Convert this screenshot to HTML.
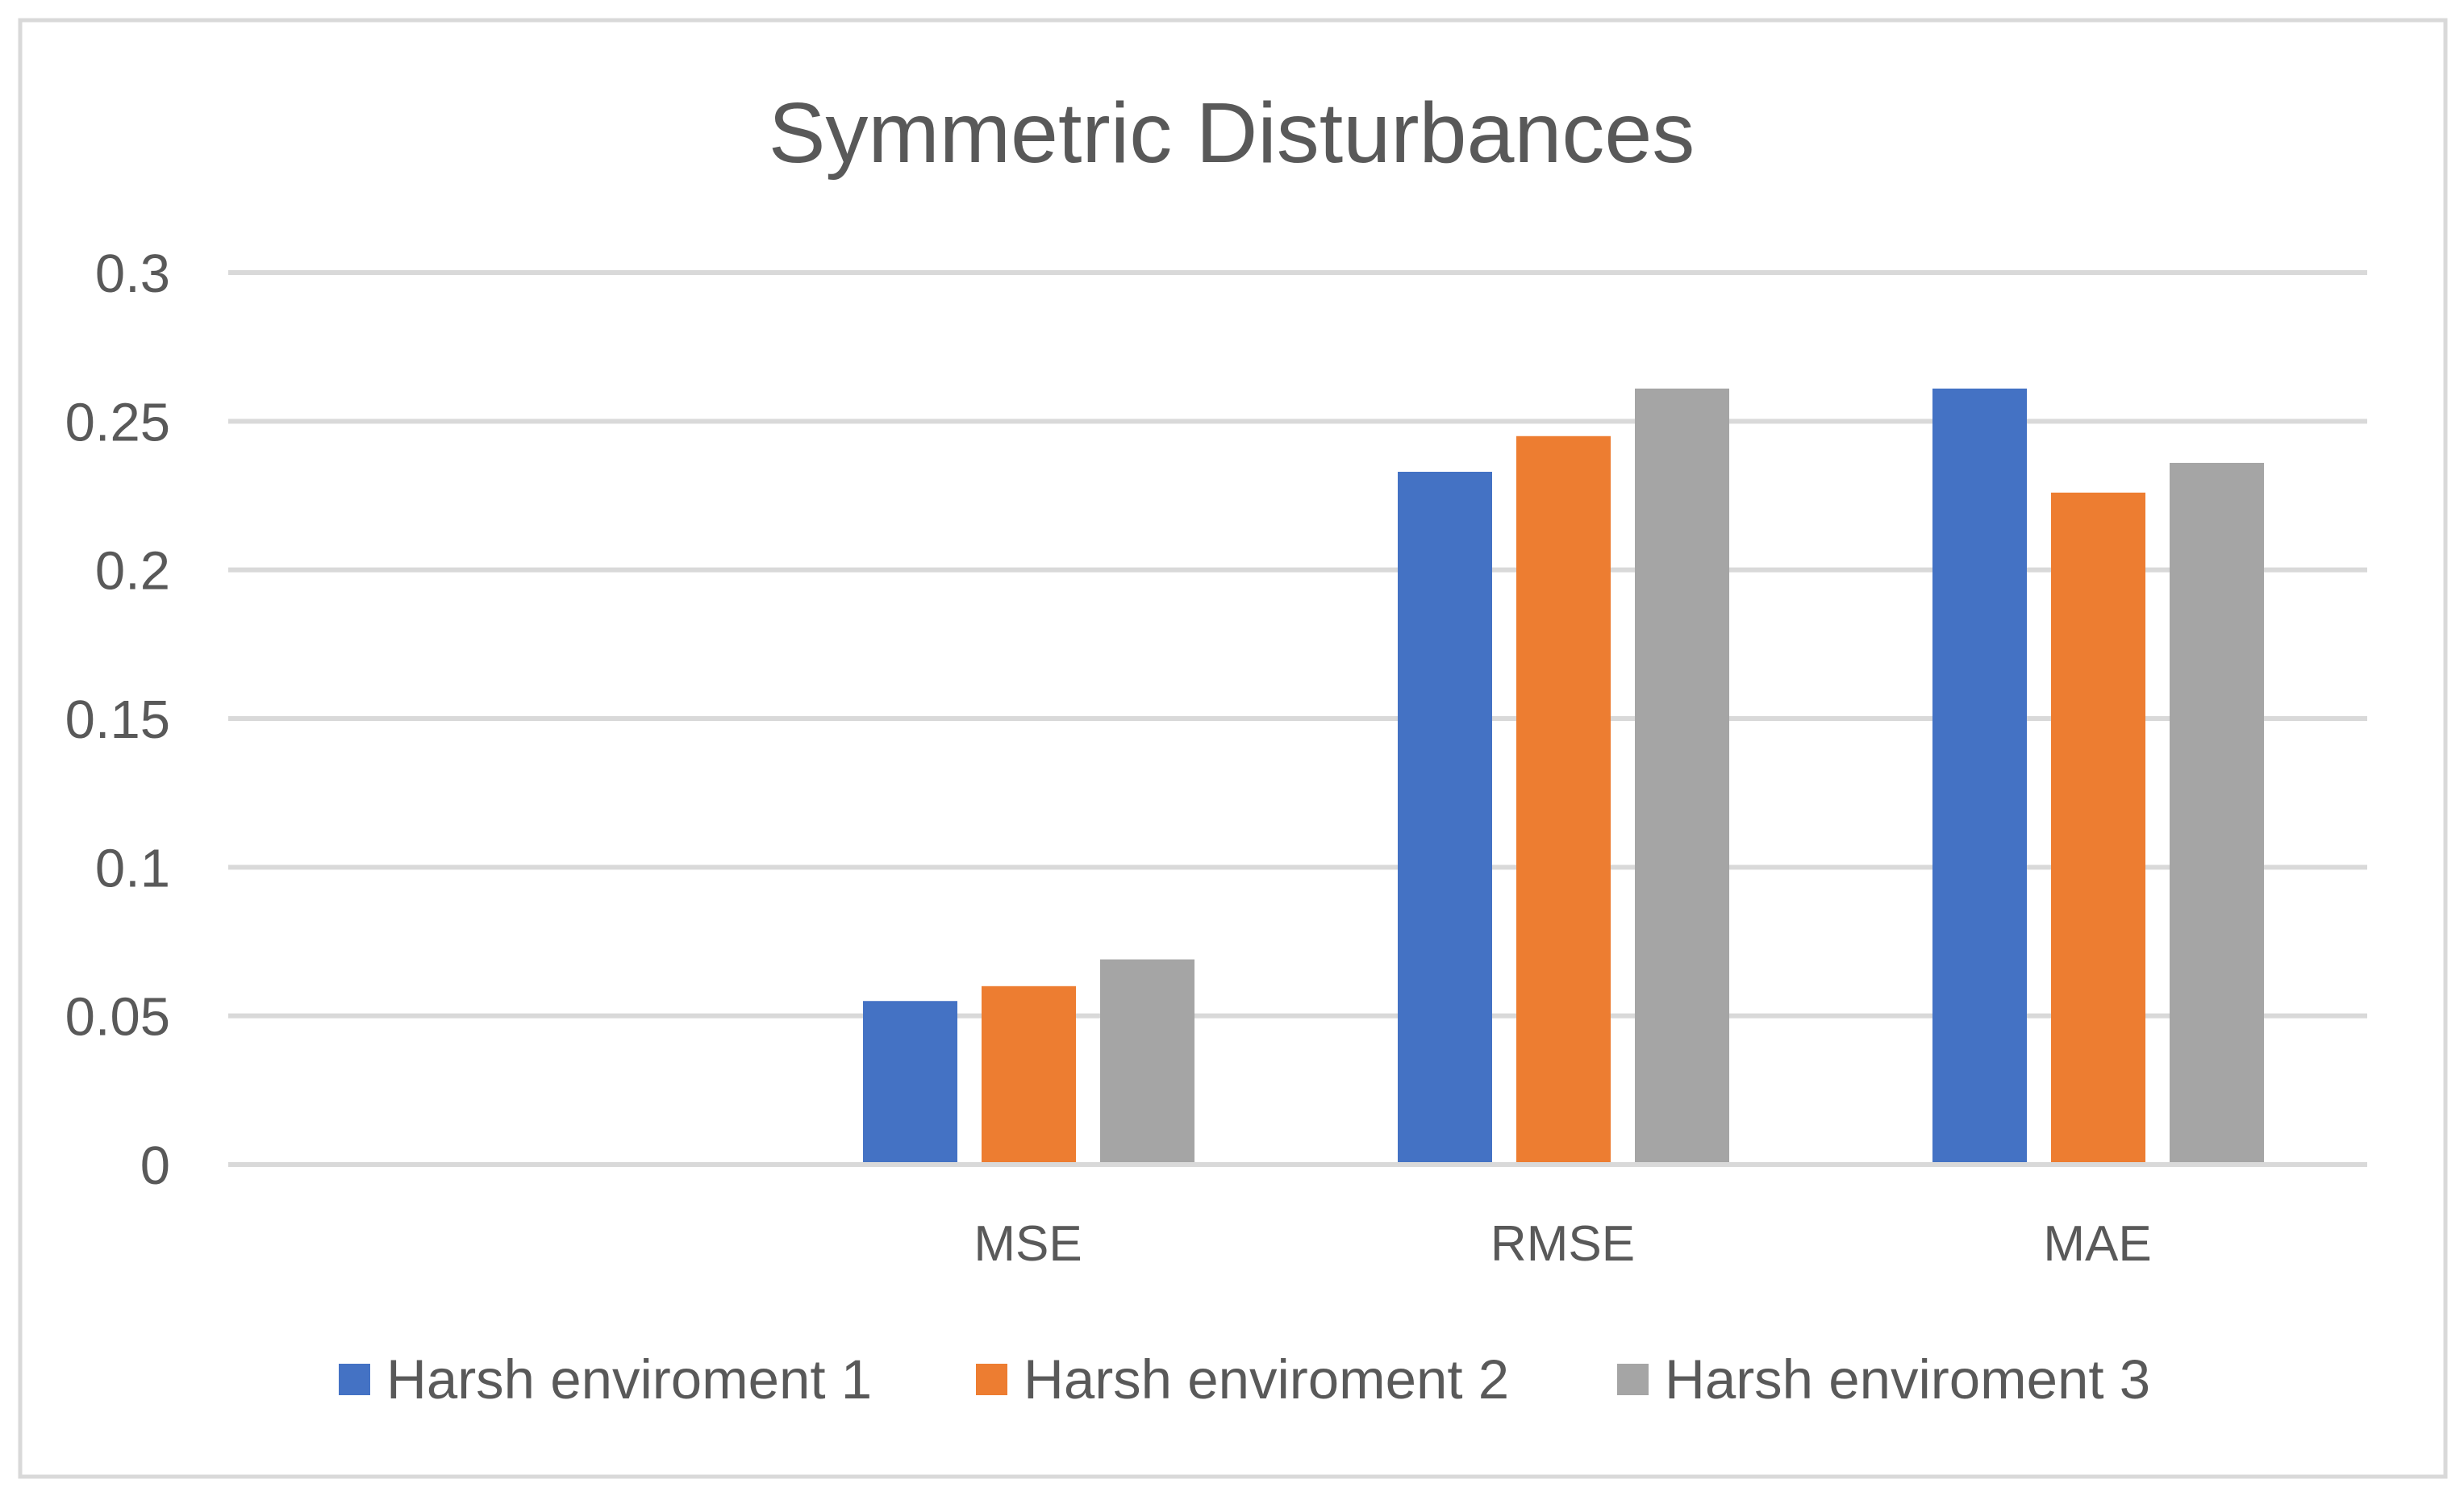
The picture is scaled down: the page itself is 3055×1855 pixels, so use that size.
<!DOCTYPE html>
<html><head><meta charset="utf-8"><style>
html,body{margin:0;padding:0;background:#fff;}
svg{display:block;font-family:"Liberation Sans",sans-serif;}
</style></head><body>
<svg id="chart" width="3055" height="1855" viewBox="0 0 3055 1855" xmlns="http://www.w3.org/2000/svg">
<rect x="25" y="25" width="3007" height="1806" fill="#fff" stroke="#d9d9d9" stroke-width="5"/>
<text x="1527" y="201" font-size="106" fill="#595959" text-anchor="middle">Symmetric Disturbances</text>
<g id="grid"></g><g id="bars"></g><g id="labels"></g><g id="legend"></g>
</svg>
<script>
const categories = ["", "MSE", "RMSE", "MAE"];
const seriesNames = ["Harsh enviroment 1", "Harsh enviroment 2", "Harsh enviroment 3"];
const series1 = [null, 0.055, 0.233, 0.261];
const series2 = [null, 0.060, 0.245, 0.226];
const series3 = [null, 0.069, 0.261, 0.236];
const tickValues = [0, 0.05, 0.1, 0.15, 0.2, 0.25, 0.3];
const tickLabels = ["0", "0.05", "0.1", "0.15", "0.2", "0.25", "0.3"];
const colors = ["#4472c4", "#ed7d31", "#a5a5a5"];

const NS = "http://www.w3.org/2000/svg";
const plotL = 283, plotR = 2935, y0 = 1444, yTop = 338, vMax = 0.3;
const yScale = v => y0 - (v / vMax) * (y0 - yTop);
const catW = (plotR - plotL) / categories.length;
const xCenter = i => plotL + catW * (i + 0.5);
const barW = 117, gap = 30;
function mk(tag, attrs, parent) { const e = document.createElementNS(NS, tag); for (const k in attrs) e.setAttribute(k, attrs[k]); parent.appendChild(e); return e; }

const grid = document.getElementById("grid");
tickValues.forEach((v, i) => {
  const l = mk("line", {x1: plotL, x2: plotR, y1: yScale(v), y2: yScale(v), stroke: "#d9d9d9", "stroke-width": 6}, grid);
  
  
  const t = mk("text", {x: 211, y: yScale(v) + 24, "font-size": 67, fill: "#595959", "text-anchor": "end"}, grid);
  t.textContent = tickLabels[i];
  
  
});

const bars = document.getElementById("bars");
const allSeries = [series1, series2, series3];
const groupW = 3 * barW + 2 * gap;
categories.forEach((c, ci) => {
  allSeries.forEach((s, si) => {
    const v = s[ci];
    if (v == null) return;
    const x = xCenter(ci) - groupW / 2 + si * (barW + gap) - 2;
    const r = mk("rect", {x: x, y: yScale(v), width: barW, height: y0 - 3 - yScale(v), fill: colors[si]}, bars);
    
    
  });
  if (c) {
    const t = mk("text", {x: xCenter(ci) - 3, y: 1563, "font-size": 62, fill: "#595959", "text-anchor": "middle"}, document.getElementById("labels"));
    t.textContent = c;
    
    
  }
});

const legend = document.getElementById("legend");
const legX = [420, 1210, 2005];
seriesNames.forEach((n, i) => {
  const g = mk("g", {}, legend);
  
  
  mk("rect", {x: legX[i], y: 1691, width: 39, height: 39, fill: colors[i]}, g);
  const t = mk("text", {x: legX[i] + 59, y: 1734, "font-size": 69, fill: "#595959"}, g);
  t.textContent = n;
});
</script>
</body></html>
